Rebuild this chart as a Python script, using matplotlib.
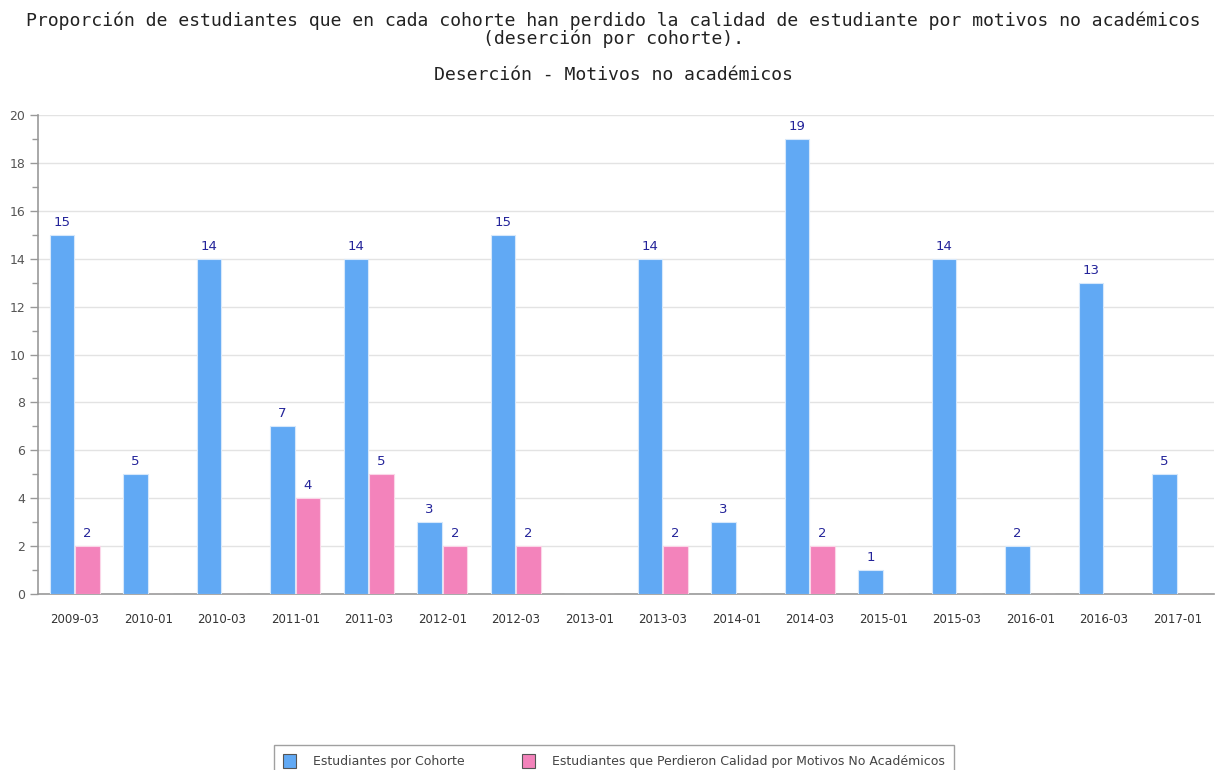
import matplotlib
matplotlib.use("Agg")
import matplotlib.pyplot as plt
import numpy as np
from matplotlib.ticker import MultipleLocator

cohorts = ["2009-03", "2010-01", "2010-03", "2011-01", "2011-03", "2012-01",
           "2012-03", "2013-01", "2013-03", "2014-01", "2014-03", "2015-01",
           "2015-03", "2016-01", "2016-03", "2017-01"]
students = [15, 5, 14, 7, 14, 3, 15, 0, 14, 3, 19, 1, 14, 2, 13, 5]
dropouts = [2, 0, 0, 4, 5, 2, 2, 0, 2, 0, 2, 0, 0, 0, 0, 0]

series_names = ["Estudiantes por Cohorte",
                "Estudiantes que Perdieron Calidad por Motivos No Académicos"]
title = ("Proporción de estudiantes que en cada cohorte han perdido la calidad "
         "de estudiante por motivos no académicos\n(deserción por cohorte).")
subtitle = "Deserción - Motivos no académicos"

blue = "#61a9f4"
pink = "#f383bb"
label_color = "#24249a"

fig = plt.figure(figsize=(12.15, 7.7), dpi=100)
ax = fig.add_axes([38 / 1215, 1 - 594 / 770, 1176 / 1215, (594 - 115) / 770])

x = np.arange(len(cohorts))
w = 0.335
b1 = ax.bar(x - w / 2 - 0.005, students, width=w, color=blue,
            edgecolor="#d6e8fb", linewidth=0.8, zorder=3)
b2 = ax.bar(x + w / 2 + 0.005, dropouts, width=w, color=pink,
            edgecolor="#fbd6e8", linewidth=0.8, zorder=3)

for bars, vals in ((b1, students), (b2, dropouts)):
    for rect, v in zip(bars, vals):
        if v:
            ax.text(rect.get_x() + rect.get_width() / 2, v + 0.25, str(v),
                    ha="center", va="bottom", color=label_color, fontsize=9.5)

ax.set_xlim(-0.5, len(cohorts) - 0.5)
ax.set_ylim(0, 20)
ax.yaxis.set_major_locator(MultipleLocator(2))
ax.yaxis.set_minor_locator(MultipleLocator(1))
ax.set_xticks(x)
ax.set_xticklabels(cohorts)
ax.tick_params(axis="x", length=0, pad=14, labelsize=8.5, labelcolor="#333333")
ax.tick_params(axis="y", which="major", length=6, width=1, color="#999999",
               labelsize=9, labelcolor="#555555", pad=3)
ax.tick_params(axis="y", which="minor", length=4, width=1, color="#999999")
ax.grid(axis="y", color="#e3e3e3", linewidth=1, zorder=0)
ax.set_axisbelow(True)
for s in ("top", "right"):
    ax.spines[s].set_visible(False)
ax.spines["left"].set_color("#999999")
ax.spines["bottom"].set_color("#999999")
ax.spines["left"].set_linewidth(1.2)
ax.spines["bottom"].set_linewidth(1.2)

fig.text(0.505, 1 - 12 / 770, title, ha="center", va="top",
         family="DejaVu Sans Mono", fontsize=13.05, color="#222222",
         linespacing=0.9)
fig.text(0.505, 1 - 66 / 770, subtitle, ha="center", va="top",
         family="DejaVu Sans Mono", fontsize=13.05, color="#222222")

leg = fig.legend([b1, b2], series_names, loc="upper center",
                 bbox_to_anchor=(614 / 1215, 1 - 745 / 770), ncol=2,
                 frameon=True, fontsize=9, handlelength=1.0, handleheight=1.3,
                 handletextpad=1.4, columnspacing=4.6, borderpad=0.75,
                 borderaxespad=0, fancybox=False, labelcolor="#444444")
leg.get_frame().set_edgecolor("#888888")
for h in leg.legend_handles:
    h.set_edgecolor("#555555")
    h.set_linewidth(0.8)

fig.savefig("out.png", dpi=100)
